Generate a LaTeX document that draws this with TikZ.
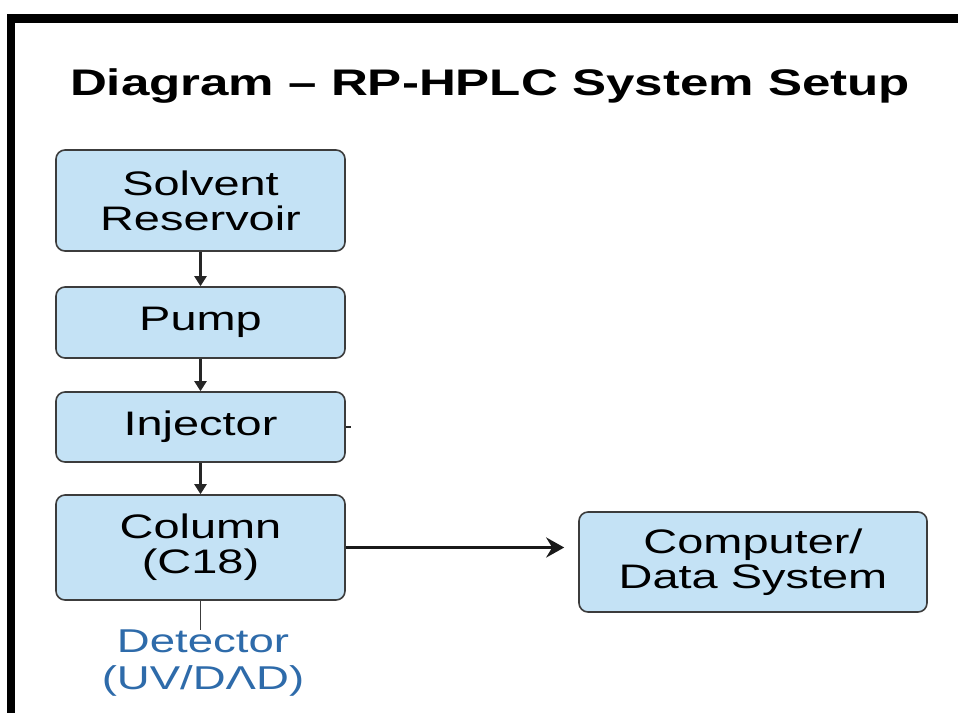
\documentclass[tikz,border=0pt]{standalone}
\usepackage{fontspec}
\setmainfont{Liberation Sans}[FakeStretch=1.38]
\usetikzlibrary{arrows.meta}
\definecolor{boxfill}{HTML}{C4E2F5}
\definecolor{boxline}{HTML}{3C3C3C}
\definecolor{detblue}{HTML}{2E6BAA}
\begin{document}
\begin{tikzpicture}[x=1pt,y=-1pt,
  stagebox/.style={draw=boxline, line width=1.6pt, fill=boxfill, rounded corners=9pt,
    minimum width=289pt, align=center, font=\fontsize{34}{35}\selectfont, inner sep=0pt},
  flow/.style={-{Triangle[length=10pt,width=12pt]}, line width=2.2pt, draw=black!85},
  bigflow/.style={-{Stealth[length=18pt,width=20pt,inset=6pt]}, line width=3pt, draw=black!90}]
\useasboundingbox (0,0) rectangle (958,713);
\fill[white] (0,0) rectangle (958,713);
\fill[black] (7,14) rectangle (958,23);
\fill[black] (7,14) rectangle (15,713);
\node[font=\bfseries\fontsize{37}{40}\selectfont, anchor=base] (title) at (490,95) {Diagram – RP-HPLC System Setup};
\node[stagebox, minimum height=101pt] (res) at (200.5,200.5) {Solvent\\Reservoir};
\node[stagebox, minimum height=71pt] (pump) at (200.5,322.5) {Pump};
\node[stagebox, minimum height=70pt] (inj) at (200.5,427) {Injector};
\node[stagebox, minimum height=105pt] (col) at (200.5,547.5) {Column\\(C18)};
\node[stagebox, minimum width=348pt, minimum height=100pt] (comp) at (753,562) {Computer/\\Data System};
\node[align=center, text=detblue, font=\fontsize{33}{37}\selectfont, inner sep=0pt] (det) at (203,663) {Detector\\(UV/DΛD)};
\draw[flow] (res) -- (pump);
\draw[flow] (pump) -- (inj);
\draw[flow] (inj) -- (col);
\draw[line width=2pt, black!85] (inj.east) -- ++(5,0);
\draw[bigflow] (col.east) -- ([xshift=-14pt]comp.west |- col.east);
\draw[line width=1.5pt, boxline] (col.south) -- (col.south |- det.north);
\end{tikzpicture}
\end{document}
